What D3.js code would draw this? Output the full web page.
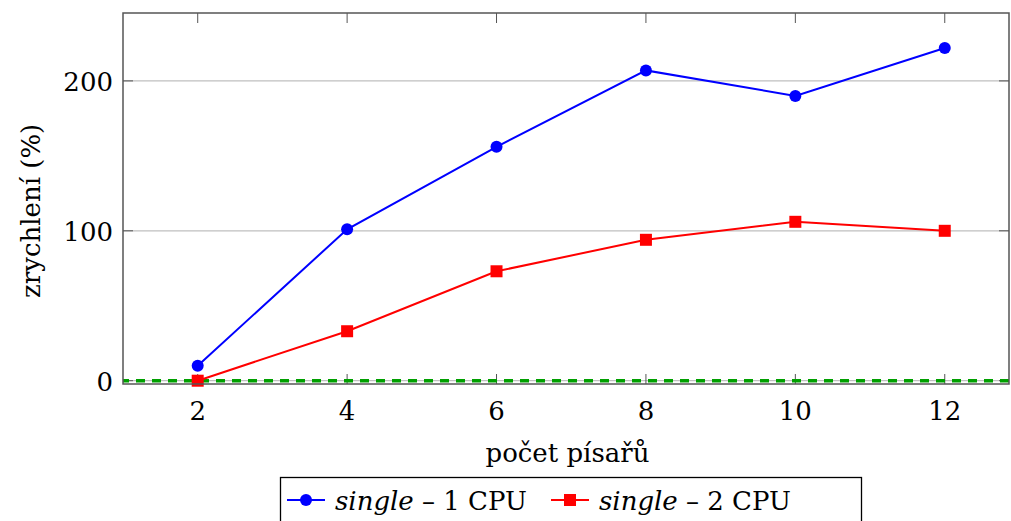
<!DOCTYPE html>
<html>
<head>
<meta charset="utf-8">
<script src="https://cdn.jsdelivr.net/npm/d3@7"></script>
<style>
  body { margin: 0; background: #fff; }
</style>
</head>
<body>
<div id="chart"></div>
<script>
// data
const writers = [2, 4, 6, 8, 10, 12];
const single1Cpu = [10, 101, 156, 207, 190, 222];
const single2Cpu = [0, 33, 73, 94, 106, 100];
const yTicks = [0, 100, 200];
const baseline = 0;

const FONT = "'DejaVu Serif', serif";
const FS = 26;

const W = 1011, H = 521;
const margin = {left: 123, right: 2, top: 13, bottom: 137};
const iw = W - margin.left - margin.right;
const ih = H - margin.top - margin.bottom;

const svg = d3.select('#chart').append('svg')
  .attr('width', W).attr('height', H)
  .attr('font-family', FONT);

const g = svg.append('g')
  .attr('transform', `translate(${margin.left},${margin.top})`);

const x = d3.scaleLinear().domain([1, 12.86]).range([0, iw]);
const y = d3.scaleLinear().domain([-2.2, 245.3]).range([ih, 0]);

// grid
g.selectAll('.grid').data(yTicks).enter().append('line')
  .attr('x1', 0).attr('x2', iw)
  .attr('y1', d => y(d)).attr('y2', d => y(d))
  .attr('stroke', '#bfbfbf').attr('stroke-width', 1.2);

// inward ticks
const tickLen = 10;
writers.forEach(v => {
  g.append('line').attr('x1', x(v)).attr('x2', x(v)).attr('y1', ih).attr('y2', ih - tickLen)
    .attr('stroke', '#555').attr('stroke-width', 1);
  g.append('line').attr('x1', x(v)).attr('x2', x(v)).attr('y1', 0).attr('y2', tickLen)
    .attr('stroke', '#555').attr('stroke-width', 1);
});
yTicks.forEach(v => {
  g.append('line').attr('x1', 0).attr('x2', tickLen).attr('y1', y(v)).attr('y2', y(v))
    .attr('stroke', '#555').attr('stroke-width', 1);
  g.append('line').attr('x1', iw).attr('x2', iw - tickLen).attr('y1', y(v)).attr('y2', y(v))
    .attr('stroke', '#555').attr('stroke-width', 1);
});

// tick labels
g.selectAll('.xl').data(writers).enter().append('text')
  .attr('x', d => x(d)).attr('y', ih + 36)
  .attr('text-anchor', 'middle').attr('font-size', FS)
  .text(d => d);
g.selectAll('.yl').data(yTicks).enter().append('text')
  .attr('x', -10).attr('y', d => y(d) + 10)
  .attr('text-anchor', 'end').attr('font-size', FS)
  .text(d => d);

// baseline
g.append('line')
  .attr('x1', 0).attr('x2', iw)
  .attr('y1', y(baseline)).attr('y2', y(baseline))
  .attr('stroke', '#00a000').attr('stroke-width', 3.5)
  .attr('stroke-dasharray', '9,7').attr('stroke-dashoffset', 3);

// series
const line = d3.line().x(d => x(d[0])).y(d => y(d[1]));
const s1 = writers.map((w, i) => [w, single1Cpu[i]]);
const s2 = writers.map((w, i) => [w, single2Cpu[i]]);

g.append('path').datum(s1).attr('d', line)
  .attr('fill', 'none').attr('stroke', '#0000ff').attr('stroke-width', 2);
g.selectAll('.m1').data(s1).enter().append('circle')
  .attr('cx', d => x(d[0])).attr('cy', d => y(d[1])).attr('r', 6)
  .attr('fill', '#0000ff');

g.append('path').datum(s2).attr('d', line)
  .attr('fill', 'none').attr('stroke', '#ff0000').attr('stroke-width', 2);
g.selectAll('.m2').data(s2).enter().append('rect')
  .attr('x', d => x(d[0]) - 6).attr('y', d => y(d[1]) - 6)
  .attr('width', 12).attr('height', 12)
  .attr('fill', '#ff0000');

// frame
g.append('rect').attr('width', iw).attr('height', ih)
  .attr('fill', 'none').attr('stroke', '#555').attr('stroke-width', 1.5);

// axis labels
svg.append('text')
  .attr('x', margin.left + x(6.95)).attr('y', 462)
  .attr('text-anchor', 'middle').attr('font-size', FS)
  .text('počet písařů');
svg.append('text')
  .attr('transform', `translate(40,${margin.top + y(100) - 20}) rotate(-90)`)
  .attr('text-anchor', 'middle').attr('font-size', FS)
  .text('zrychlení (%)');

// legend
const lg = svg.append('g');
lg.append('rect').attr('x', 280.5).attr('y', 477.5).attr('width', 581).attr('height', 50)
  .attr('fill', '#fff').attr('stroke', '#000').attr('stroke-width', 1.3);
const legendItems = [
  {x0: 287, tx: 335, color: '#0000ff', shape: 'circle', label: '1 CPU'},
  {x0: 551, tx: 599, color: '#ff0000', shape: 'square', label: '2 CPU'}
];
legendItems.forEach(it => {
  const cy = 500;
  lg.append('line').attr('x1', it.x0).attr('x2', it.x0 + 38).attr('y1', cy).attr('y2', cy)
    .attr('stroke', it.color).attr('stroke-width', 2);
  if (it.shape === 'circle') {
    lg.append('circle').attr('cx', it.x0 + 19).attr('cy', cy).attr('r', 6).attr('fill', it.color);
  } else {
    lg.append('rect').attr('x', it.x0 + 13).attr('y', cy - 6).attr('width', 12).attr('height', 12).attr('fill', it.color);
  }
  const t = lg.append('text').attr('x', it.tx).attr('y', cy + 10).attr('font-size', FS);
  t.append('tspan').attr('font-style', 'italic').text('single');
  t.append('tspan').text(' – ' + it.label);
});
</script>
</body>
</html>
